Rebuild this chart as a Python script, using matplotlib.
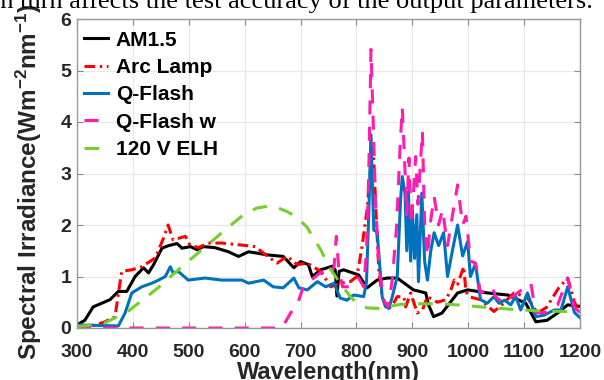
import numpy as np
import matplotlib
matplotlib.use('Agg')
import matplotlib.pyplot as plt

plt.rcParams['font.family'] = ['Liberation Sans', 'DejaVu Sans']
plt.rcParams['font.weight'] = 'bold'
plt.rcParams['mathtext.fontset'] = 'custom'
plt.rcParams['mathtext.rm'] = 'Liberation Sans:bold'
plt.rcParams['mathtext.bf'] = 'Liberation Sans:bold'
plt.rcParams['mathtext.default'] = 'rm'

# AM1.5 reference spectrum
am_wl = [300, 314, 329, 344, 359, 374, 389, 404, 419, 428, 437, 452, 464, 479, 488,
         503, 515, 526, 547, 571, 589, 607, 619, 640, 669, 688, 700, 714, 721, 736,
         757, 762, 765, 769, 777, 804, 819, 837, 855, 873, 902, 924, 929, 938, 953,
         981, 999, 1035, 1071, 1103, 1121, 1141, 1160, 1178, 1200]
am_val = [0.06, 0.15, 0.41, 0.48, 0.55, 0.71, 0.71, 1.0, 1.17, 1.07, 1.23, 1.55, 1.6, 1.64, 1.55,
          1.58, 1.52, 1.58, 1.56, 1.48, 1.39, 1.48, 1.46, 1.42, 1.39, 1.17, 1.29, 1.23, 1.0, 1.13,
          1.2, 1.13, 0.62, 1.1, 1.13, 1.03, 0.78, 0.93, 0.97, 0.97, 0.74, 0.68, 0.45, 0.22, 0.29,
          0.68, 0.74, 0.68, 0.64, 0.48, 0.12, 0.15, 0.29, 0.45, 0.42]

# Arc lamp
arc_wl = [300, 330, 350, 368, 380, 398, 416, 440, 455, 463, 472, 494, 502, 517, 535,
          559, 595, 619, 640, 658, 676, 694, 712, 736, 754, 771, 789, 801, 810, 819,
          826, 830, 836, 840, 846, 855, 865, 873, 885, 888, 897, 909, 918, 927, 945,
          960, 969, 975, 981, 992, 996, 1004, 1022, 1046, 1060, 1082, 1105, 1124, 1140,
          1162, 1178, 1190, 1200]
arc_val = [0.03, 0.05, 0.12, 0.22, 1.1, 1.13, 1.19, 1.36, 1.75, 2.0, 1.71, 1.78, 1.61, 1.56, 1.65,
           1.65, 1.61, 1.58, 1.4, 1.26, 1.39, 1.23, 1.26, 1.1, 0.8, 0.87, 0.9, 1.0, 1.58, 2.3,
           3.2, 3.5, 2.0, 1.13, 0.6, 0.35, 0.45, 0.61, 0.6, 0.41, 0.68, 0.29, 0.35, 0.61, 0.5,
           0.55, 0.74, 0.93, 0.85, 1.19, 0.7, 0.6, 0.55, 0.32, 0.45, 0.68, 0.6, 0.29, 0.4,
           0.78, 0.97, 0.5, 0.3]

# Q-Flash
qf_wl = [300, 340, 374, 386, 398, 416, 434, 446, 458, 467, 472, 481, 499, 529, 559,
         595, 607, 634, 651, 669, 688, 697, 712, 730, 745, 760, 771, 783, 795, 813,
         818, 822, 826, 831, 837, 846, 852, 858, 864, 873, 879, 882, 887, 890, 893,
         897, 900, 904, 908, 911, 917, 922, 927, 933, 939, 947, 956, 963, 972, 981,
         990, 999, 1004, 1013, 1022, 1034, 1046, 1055, 1065, 1076, 1085, 1094, 1106, 1121,
         1136, 1154, 1166, 1178, 1190, 1200]
qf_val = [0.06, 0.05, 0.04, 0.29, 0.68, 0.8, 0.87, 0.93, 1.0, 1.19, 1.07, 1.1, 0.93, 0.97, 0.93,
          0.93, 0.87, 0.93, 0.8, 0.78, 0.97, 0.78, 0.74, 0.9, 0.8, 0.87, 0.58, 0.54, 0.64, 0.61,
          0.9, 2.2, 3.75, 1.9, 1.87, 0.61, 0.42, 0.38, 0.6, 1.0, 2.5, 2.94, 2.6, 1.5, 2.65,
          1.3, 2.3, 1.35, 2.2, 0.9, 2.62, 1.3, 0.93, 1.5, 1.85, 1.6, 1.85, 1.0, 1.52, 2.0,
          1.4, 1.68, 1.0, 1.25, 0.55, 0.48, 0.61, 0.48, 0.54, 0.45, 0.61, 0.35, 0.68, 0.22,
          0.25, 0.35, 0.35, 0.8, 0.3, 0.2]

# Q-Flash w
qfw_wl = [300, 660, 668, 682, 694, 705, 730, 745, 755, 760, 764, 768, 775, 789, 804,
          813, 818, 822, 826, 830, 834, 840, 849, 857, 864, 872, 878, 882, 886, 890,
          894, 898, 903, 906, 910, 914, 918, 922, 927, 933, 939, 947, 954, 963, 972,
          981, 990, 996, 1004, 1013, 1022, 1043, 1049, 1064, 1088, 1112, 1121, 1140, 1160,
          1178, 1190, 1200]
qfw_val = [0.0, 0.0, 0.02, 0.29, 0.45, 0.8, 1.03, 1.13, 1.05, 1.2, 1.78, 1.2, 0.8, 0.8, 0.97,
           0.8, 1.5, 3.0, 5.41, 4.0, 2.5, 1.2, 0.54, 0.41, 0.93, 2.0, 3.5, 4.28, 3.3, 2.2,
           3.3, 2.0, 2.8, 3.33, 2.4, 3.1, 3.82, 2.0, 1.4, 2.1, 2.55, 2.0, 2.3, 1.6, 2.2,
           2.78, 2.0, 2.17, 1.3, 1.26, 0.68, 0.8, 0.6, 0.48, 0.68, 0.87, 0.3, 0.3, 0.45,
           0.97, 0.4, 0.3]

# 120 V ELH lamp
elh_wl = [300, 320, 350, 391, 445, 481, 517, 559, 598, 622, 640, 660, 676, 694, 712,
          736, 754, 771, 789, 801, 819, 840, 860, 879, 906, 954, 990, 1022, 1082, 1130,
          1178, 1200]
elh_val = [0.03, 0.05, 0.1, 0.32, 0.78, 1.13, 1.46, 1.85, 2.2, 2.33, 2.36, 2.33, 2.26, 2.15, 1.95,
           1.52, 1.13, 0.87, 0.61, 0.48, 0.39, 0.38, 0.42, 0.46, 0.47, 0.47, 0.44, 0.41, 0.36, 0.33,
           0.32, 0.32]

x_ticks = [300, 400, 500, 600, 700, 800, 900, 1000, 1100, 1200]
y_ticks = [0, 1, 2, 3, 4, 5, 6]

fig = plt.figure(figsize=(6.04, 3.8), dpi=100)
ax = fig.add_axes([77 / 604, 52 / 380, 503 / 604, 309 / 380])

lw = 2.2
ax.plot(am_wl, am_val, color='black', lw=lw, label='AM1.5')
ax.plot(arc_wl, arc_val, color='#FF0000', lw=lw, dashes=(3.5, 1.5, 0.8, 1.5), label='Arc Lamp')
ax.plot(qf_wl, qf_val, color='#0072BD', lw=lw, label='Q-Flash')
ax.plot(qfw_wl, qfw_val, color='#FF1CAE', lw=lw, dashes=(4.6, 4.0), label='Q-Flash w')
ax.plot(elh_wl, elh_val, color='#74CF2B', lw=lw, dashes=(4.8, 4.0), label='120 V ELH')

ax.set_xlim(300, 1200)
ax.set_ylim(0, 6)
ax.set_xticks(x_ticks)
ax.set_yticks(y_ticks)
ax.tick_params(labelsize=14, direction='in', top=True, right=True, length=4,
               color='#888888')
ax.tick_params(axis='x', pad=11.5)
ax.tick_params(axis='y', pad=4)
for lab in ax.get_xticklabels() + ax.get_yticklabels():
    lab.set_fontweight('bold')
    lab.set_color('#262626')
ax.grid(True, color='#e8e8e8', lw=0.9)
ax.set_axisbelow(True)
for sp in ax.spines.values():
    sp.set_color('#999999')
    sp.set_linewidth(1.0)

ax.set_xlabel('Wavelength(nm)', fontsize=17, fontweight='bold', color='#262626', labelpad=0)
fig.text(29 / 604, 1 - 182 / 380, 'Spectral Irradiance(Wm$^{-2}$nm$^{-1}$)', fontsize=17.5,
         fontweight='bold', color='#262626', rotation=90, ha='center', va='center')

leg = ax.legend(loc='upper left', bbox_to_anchor=(-7 / 503, 1 + 2 / 309), frameon=False,
                fontsize=15, handlelength=1.15, handletextpad=0.4, labelspacing=0.4,
                borderaxespad=0.45, borderpad=0.2)
for t in leg.get_texts():
    t.set_fontweight('bold')

# cropped caption line from the page above the figure
fig.text(593 / 604, 1 - 8 / 380, 'in turn affects the test accuracy of the output parameters.',
         family='Liberation Serif', fontsize=19, ha='right', va='baseline', fontweight='normal')

fig.savefig('out.png', dpi=100)
